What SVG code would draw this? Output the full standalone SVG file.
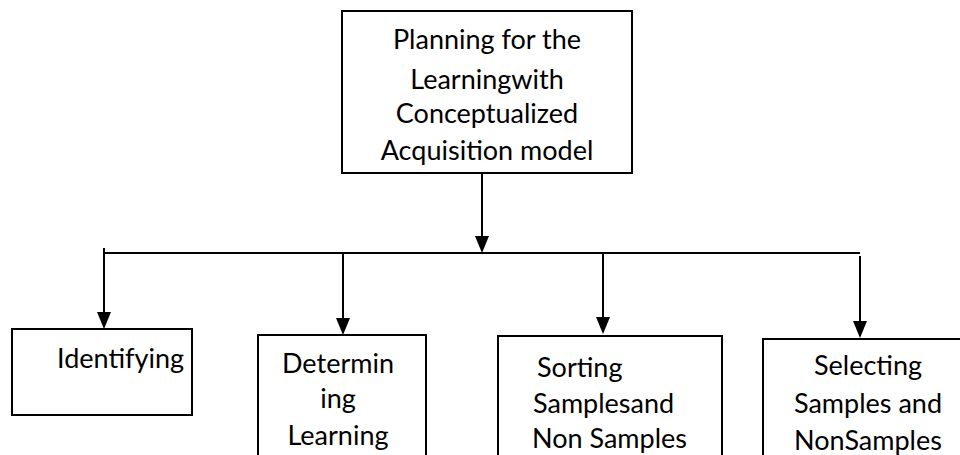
<svg xmlns="http://www.w3.org/2000/svg" width="960" height="455" viewBox="0 0 960 455">
<defs>
<style>
.box{fill:#fff;stroke:#000;stroke-width:2}
.lbl{font-family:Lato,"Liberation Sans",sans-serif;font-size:27px;fill:#000}
.mid{text-anchor:middle}
.edge{fill:none;stroke:#000;stroke-width:2}
</style>
<marker id="arr" markerUnits="userSpaceOnUse" markerWidth="17" markerHeight="14" refX="15" refY="7" orient="auto" viewBox="0 0 17 14">
<path d="M0,0 L17,7 L0,14 Z" fill="#000"/>
</marker>
</defs>
<g id="connectors">
<line class="edge" x1="482" y1="173" x2="482" y2="251" marker-end="url(#arr)"/>
<line class="edge" x1="104" y1="253" x2="860" y2="253"/>
<line class="edge" x1="104" y1="248" x2="104" y2="327" marker-end="url(#arr)"/>
<line class="edge" x1="343" y1="253" x2="343" y2="333" marker-end="url(#arr)"/>
<line class="edge" x1="603" y1="253" x2="603" y2="332" marker-end="url(#arr)"/>
<line class="edge" x1="860" y1="256" x2="860" y2="336" marker-end="url(#arr)"/>
</g>
<g id="node-planning">
<rect class="box" x="342" y="11" width="290" height="162"/>
<text class="lbl mid" x="487" y="49">Planning for the</text>
<text class="lbl mid" x="487" y="89">Learningwith</text>
<text class="lbl mid" x="487" y="123">Conceptualized</text>
<text class="lbl mid" x="487" y="160">Acquisition model</text>
</g>
<g id="node-identifying">
<rect class="box" x="12" y="329" width="180" height="86"/>
<text class="lbl" x="57" y="368">Identifying</text>
</g>
<g id="node-determining">
<rect class="box" x="258" y="335" width="168" height="140"/>
<text class="lbl mid" x="338" y="373">Determin</text>
<text class="lbl mid" x="338" y="408">ing</text>
<text class="lbl mid" x="338" y="445">Learning</text>
</g>
<g id="node-sorting">
<rect class="box" x="498" y="336" width="224" height="140"/>
<text class="lbl" x="537" y="377">Sorting</text>
<text class="lbl" x="533" y="413">Samplesand</text>
<text class="lbl" x="532" y="448">Non Samples</text>
</g>
<g id="node-selecting">
<rect class="box" x="763" y="339" width="210" height="140"/>
<text class="lbl mid" x="868" y="375">Selecting</text>
<text class="lbl mid" x="868" y="413">Samples and</text>
<text class="lbl mid" x="868" y="450">NonSamples</text>
</g>
</svg>
